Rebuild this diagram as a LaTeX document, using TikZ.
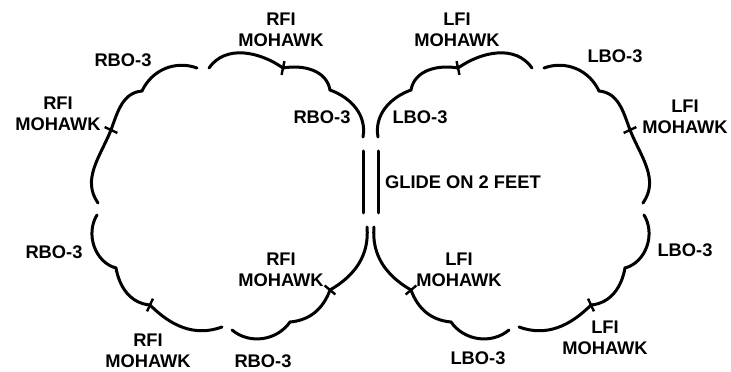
\documentclass[tikz,border=0pt]{standalone}
\usepackage{fontspec}
\setmainfont{Liberation Sans}
\tikzset{
  trace/.style={line width=3pt, line cap=round},
  tickmark/.style={line width=2.4pt},
  lbl/.style={font=\fontsize{18.3}{20.5}\selectfont\bfseries, inner sep=0pt, align=center, text=black},
}
\newcommand\halfcloud{%
  \draw[trace] (209,304) to[out=55,in=145] (283,304) to[out=10,in=100] (330,282) to[out=-20,in=80] (363,235);
  \draw[trace] (98,169) to[out=125,in=248] (111,242) to[out=70,in=185] (142,281) to[out=65,in=160] (197,304);
  \draw[trace] (97,157) to[out=-122,in=165] (116,104) to[out=-80,in=175] (150,67) to[out=-45,in=200] (222,45);
  \draw[trace] (232,42) to[out=-40,in=235] (290,50) to[out=5,in=250] (330,82) to[out=30,in=275] (367,145);
  \draw[tickmark] (111,242) ++(155:7) -- ++(-25:14);
  \draw[tickmark] (283,304) ++(78:7) -- ++(-102:14);
  \draw[tickmark] (150,67) ++(65:7) -- ++(245:14);
  \draw[tickmark] (330,82) ++(140:7) -- ++(-40:14);
  \draw[trace] (363,221) -- (363,159);
}
\begin{document}
\begin{tikzpicture}[x=1pt,y=1pt]
\useasboundingbox (0,0) rectangle (731,372);
\halfcloud
\begin{scope}[xshift=741pt,xscale=-1]
\halfcloud
\end{scope}
% left cloud labels
\node[lbl] (rbo1) at (123,312) {RBO-3};
\node[lbl] (rfi1) at (281,342) {RFI\\MOHAWK};
\node[lbl] (rfi2) at (58,258) {RFI\\MOHAWK};
\node[lbl] (rbo2) at (322,255) {RBO-3};
\node[lbl] (rbo3) at (54,120) {RBO-3};
\node[lbl] (rfi3) at (148,21) {RFI\\MOHAWK};
\node[lbl] (rbo4) at (263,11) {RBO-3};
\node[lbl] (rfi4) at (281,102) {RFI\\MOHAWK};
% right cloud labels
\node[lbl] (lfi1) at (457,342) {LFI\\MOHAWK};
\node[lbl] (lbo1) at (615,316) {LBO-3};
\node[lbl] (lbo2) at (420,255) {LBO-3};
\node[lbl] (lfi2) at (685,255) {LFI\\MOHAWK};
\node[lbl] (lbo3) at (685,122) {LBO-3};
\node[lbl] (lfi3) at (459,102) {LFI\\MOHAWK};
\node[lbl] (lbo4) at (478,14) {LBO-3};
\node[lbl] (lfi4) at (605,34) {LFI\\MOHAWK};
\node[lbl, anchor=west] (glide) at (385,190) {GLIDE ON 2 FEET};
\end{tikzpicture}
\end{document}
